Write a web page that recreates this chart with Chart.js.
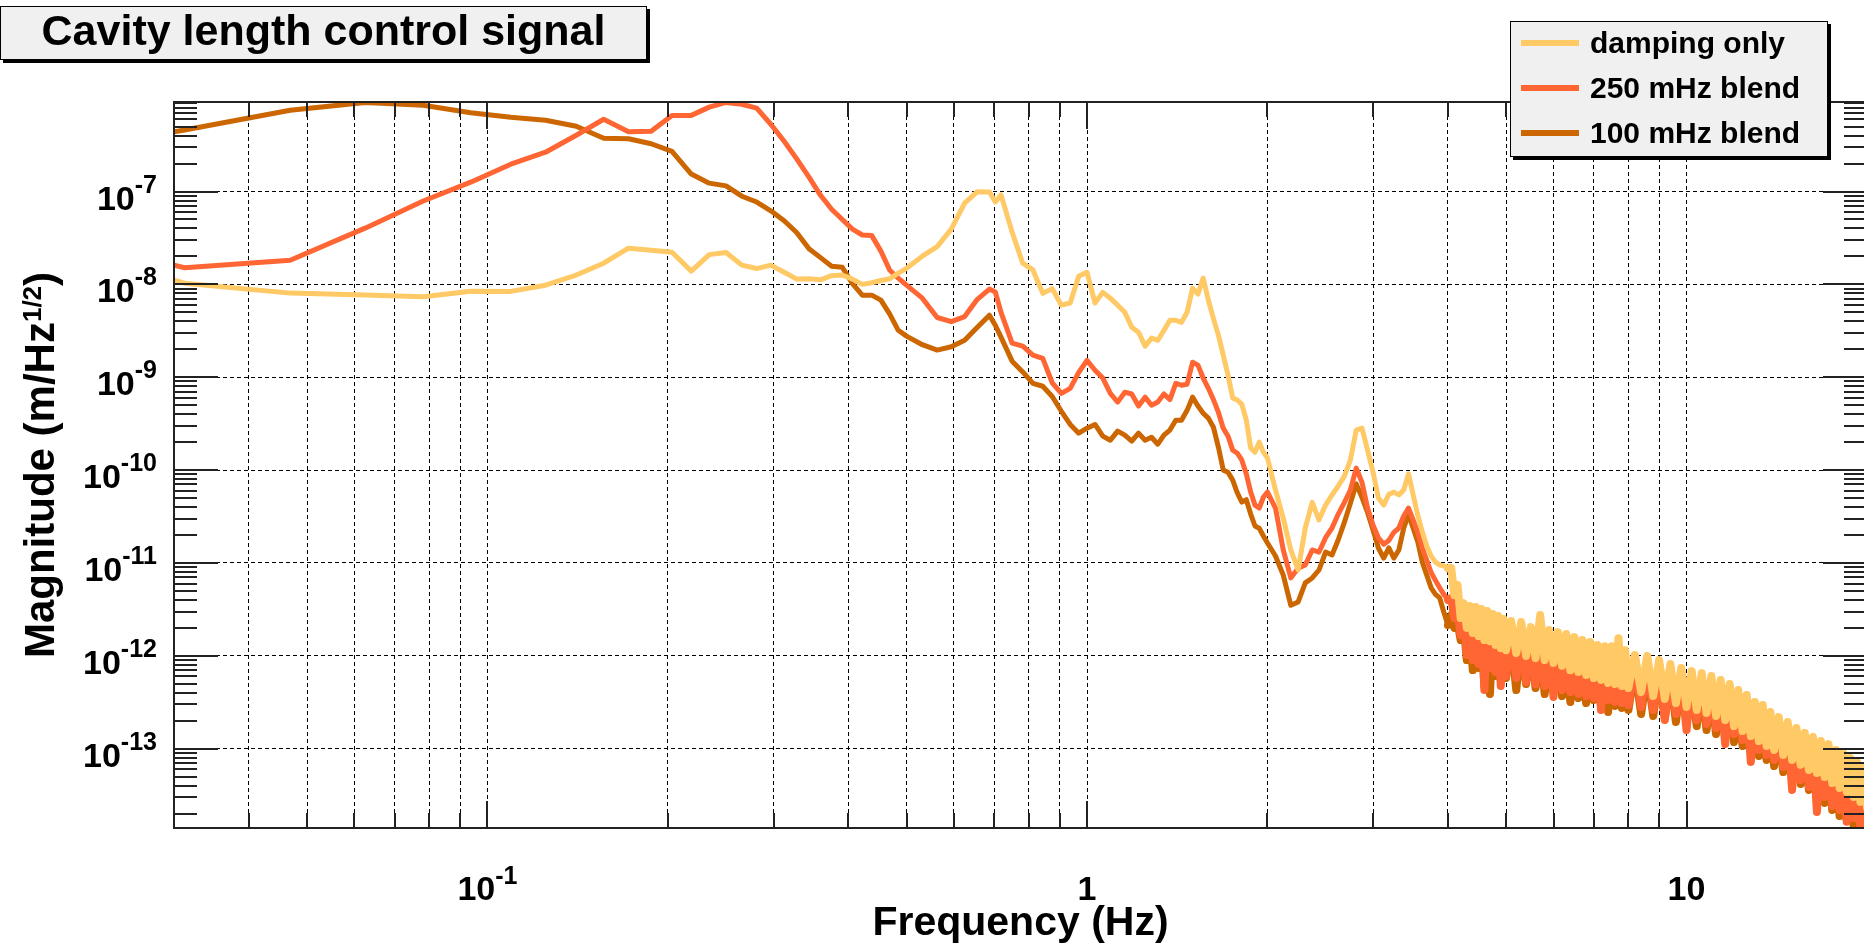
<!DOCTYPE html>
<html>
<head>
<meta charset="utf-8">
<title>Cavity length control signal</title>
<script src="https://cdn.jsdelivr.net/npm/chart.js@4.4.1/dist/chart.umd.min.js"></script>
<style>
  html, body { margin: 0; padding: 0; background: #fff; overflow: hidden; }
  body { width: 1864px; height: 943px; position: relative; font-family: "Liberation Sans", Arial, sans-serif; }
  #wrap { position: absolute; left: 0; top: 0; width: 1868px; height: 943px; }
  #title {
    position: absolute; left: 0; top: 6px; width: 645px; height: 52px;
    background: #f0f0f0; border: 1px solid #000; box-shadow: 3px 3px 0 #000;
    font-weight: bold; font-size: 43px; line-height: 46px; text-align: center; white-space: nowrap;
  }
  #legend {
    position: absolute; left: 1510px; top: 21px; width: 316px; height: 134px;
    background: #f0f0f0; border: 1px solid #000; box-shadow: 3px 3px 0 #000;
  }
  .swatch { position: absolute; left: 10px; width: 58px; height: 6px; }
  .label { position: absolute; left: 79px; font-weight: bold; font-size: 30px; line-height: 30px; white-space: nowrap; }
</style>
</head>
<body>
<div id="wrap"><canvas id="chart" width="1868" height="943"></canvas></div>
<div id="title">Cavity length control signal</div>
<div id="legend"></div>
<script>
// frequency bins (Hz), shared by all three spectra
const freqHz = [
  0.03, 0.03125, 0.046875, 0.0625, 0.078125, 0.09375, 0.109375, 0.125, 0.140625, 0.15625,
  0.171875, 0.1875, 0.203125, 0.21875, 0.234375, 0.25, 0.265625, 0.28125, 0.296875, 0.3125,
  0.328125, 0.34375, 0.359375, 0.375, 0.390625, 0.40625, 0.421875, 0.4375, 0.453125, 0.46875,
  0.484375, 0.5,
  0.53125, 0.5625, 0.59375, 0.625, 0.65625, 0.6875, 0.703125, 0.71875, 0.75, 0.78125,
  0.8125, 0.84375, 0.875, 0.90625, 0.9375, 0.96875, 1.0,
  1.03125, 1.0625, 1.09375, 1.125, 1.15625, 1.1875, 1.21875, 1.25, 1.28125, 1.3125,
  1.34375, 1.375, 1.40625, 1.4375, 1.46875, 1.5, 1.53125, 1.5625, 1.59375, 1.625,
  1.65625, 1.6875, 1.71875, 1.75, 1.78125, 1.8125, 1.84375, 1.875, 1.90625, 1.9375,
  1.96875, 2.0,
  2.0625, 2.125, 2.1875, 2.25, 2.3125, 2.375, 2.4375, 2.5, 2.5625, 2.625,
  2.6875, 2.75, 2.8125, 2.875, 2.9375, 3.0, 3.0625, 3.125, 3.1875, 3.25,
  3.3125, 3.375, 3.4375, 3.5, 3.5625, 3.625, 3.6875, 3.75, 3.8125, 3.875,
  3.9375, 4.0,
  4.05, 4.1, 4.15, 4.2, 4.25, 4.3, 4.35, 4.4, 4.45, 4.5, 4.55, 4.6, 4.65, 4.7, 4.75, 4.8, 4.85, 4.9, 4.95, 5.0,
  5.1, 5.2, 5.3, 5.4, 5.5, 5.6, 5.7, 5.8, 5.9, 6.0, 6.1, 6.2, 6.3, 6.4, 6.5,
  6.6, 6.7, 6.8, 6.9, 7.0, 7.1, 7.2, 7.3, 7.4, 7.5, 7.6, 7.7, 7.8, 7.9, 8.0,
  8.2, 8.4, 8.6, 8.8, 9.0, 9.2, 9.4, 9.6, 9.8, 10.0, 10.2, 10.4, 10.6, 10.8, 11.0,
  11.2, 11.4, 11.6, 11.8, 12.0, 12.2, 12.4, 12.6, 12.8, 13.0, 13.2, 13.4, 13.6, 13.8, 14.0,
  14.25, 14.5, 14.75, 15.0, 15.25, 15.5, 15.75, 16.0, 16.25, 16.5, 16.75, 17.0,
  17.25, 17.5, 17.75, 18.0, 18.25, 18.5, 18.75, 19.0, 19.25, 19.5, 19.75, 20.0
];

// magnitude, m/Hz^1/2
const dampingOnly = [
  1.11e-8, 1.03e-8, 8.05e-9, 7.7e-9, 7.35e-9, 8.45e-9, 8.4e-9, 9.8e-9, 1.26e-8, 1.69e-8,
  2.45e-8, 2.33e-8, 2.22e-8, 1.39e-8, 2.09e-8, 2.2e-8, 1.61e-8, 1.48e-8, 1.61e-8, 1.35e-8,
  1.14e-8, 1.15e-8, 1.12e-8, 1.24e-8, 1.26e-8, 1.14e-8, 1.0e-8, 1.04e-8, 1.1e-8, 1.15e-8,
  1.32e-8, 1.49e-8,
  2.01e-8, 2.55e-8, 3.93e-8, 7.5e-8, 9.95e-8, 9.9e-8, 7.7e-8, 9.2e-8, 3.65e-8, 1.69e-8,
  1.43e-8, 8.0e-9, 9.0e-9, 5.97e-9, 6.3e-9, 1.22e-8, 1.35e-8,
  6.3e-9, 8.2e-9, 7.1e-9, 5.97e-9, 5.0e-9, 3.46e-9, 3.05e-9, 2.16e-9, 2.64e-9, 2.5e-9,
  3.2e-9, 4.1e-9, 4.1e-9, 3.9e-9, 5.0e-9, 9.1e-9, 7.85e-9, 1.17e-8, 6.75e-9, 4.3e-9,
  2.84e-9, 1.73e-9, 1.05e-9, 5.96e-10, 5.7e-10, 5.1e-10, 3.46e-10, 1.73e-10, 1.56e-10, 2.0e-10,
  1.56e-10, 1.35e-10,
  6.1e-11, 3.04e-11, 1.38e-11, 8.4e-12, 2.38e-11, 4.5e-11, 2.9e-11, 4.2e-11, 5.4e-11, 6.75e-11,
  8.6e-11, 1.28e-10, 2.7e-10, 2.83e-10, 1.64e-10, 9.5e-11, 5.0e-11, 4.2e-11, 5.5e-11, 5.8e-11,
  5.4e-11, 6.1e-11, 9.1e-11, 5.4e-11, 3.27e-11, 2.15e-11, 1.52e-11, 1.19e-11, 1.02e-11, 9.5e-12,
  9.3e-12, 8.8e-12,
  8.85e-12, 4.5e-12, 5.8e-12, 2.55e-12, 3.7e-12, 2.0e-12, 3.44e-12, 1.76e-12, 3.35e-12, 1.63e-12,
  3.19e-12, 1.48e-12, 3.04e-12, 1.44e-12, 2.82e-12, 1.31e-12, 2.68e-12, 1.21e-12, 2.49e-12, 1.15e-12,
  2.37e-12, 1.07e-12, 2.31e-12, 9.95e-13, 2.04e-12, 9.45e-13, 2.75e-12, 9.0e-13, 1.9e-12, 8.4e-13,
  1.8e-12, 7.8e-13, 1.72e-12, 7.0e-13, 1.59e-12, 6.7e-13, 1.48e-12, 6.2e-13, 1.41e-12, 5.77e-13,
  1.31e-12, 5.5e-13, 1.27e-12, 5.1e-13, 1.27e-12, 4.97e-13, 1.55e-12, 4.73e-13, 1.15e-12, 4.5e-13,
  1.02e-12, 4.07e-13, 9.95e-13, 3.69e-13, 9.0e-13, 3.43e-13, 8.17e-13, 3.1e-13, 7.4e-13, 2.81e-13,
  6.85e-13, 2.61e-13, 6.5e-13, 2.42e-13, 6.06e-13, 2.25e-13, 5.5e-13, 2.04e-13, 4.97e-13, 1.75e-13,
  4.28e-13, 1.55e-13, 3.78e-13, 1.37e-13, 3.18e-13, 1.21e-13, 2.95e-13, 1.07e-13, 2.48e-13, 9.7e-14,
  2.19e-13, 8.56e-14, 1.94e-13, 7.57e-14, 1.67e-13, 6.7e-14, 1.48e-13, 5.9e-14, 1.34e-13, 5.47e-14,
  1.21e-13, 4.96e-14, 1.12e-13, 4.27e-14, 9.7e-14, 3.78e-14, 8.98e-14, 3.42e-14, 7.94e-14, 3.02e-14,
  7.2e-14, 2.67e-14, 6.35e-14, 2.3e-14
];

const blend250mHz = [
  1.61e-8, 1.51e-8, 1.82e-8, 4.03e-8, 7.9e-8, 1.26e-7, 1.97e-7, 2.65e-7, 4.04e-7, 6.0e-7,
  4.4e-7, 4.45e-7, 6.6e-7, 6.6e-7, 8.1e-7, 9.1e-7, 8.7e-7, 7.9e-7, 5.3e-7, 3.47e-7,
  2.23e-7, 1.43e-7, 9.1e-8, 6.45e-8, 5.0e-8, 3.93e-8, 3.4e-8, 3.35e-8, 2.28e-8, 1.42e-8,
  1.17e-8, 9.8e-9,
  7.1e-9, 4.4e-9, 3.97e-9, 4.5e-9, 6.9e-9, 8.9e-9, 8.3e-9, 5.0e-9, 2.33e-9, 2.16e-9,
  1.73e-9, 1.6e-9, 8.7e-10, 6.7e-10, 7.6e-10, 1.13e-9, 1.52e-9,
  1.19e-9, 9.8e-10, 6.7e-10, 5.4e-10, 6.9e-10, 6.6e-10, 4.9e-10, 6.1e-10, 5.0e-10, 5.4e-10,
  6.6e-10, 5.75e-10, 8.6e-10, 8.2e-10, 8.4e-10, 1.45e-9, 1.35e-9, 9.8e-10, 7.6e-10, 5.75e-10,
  4.2e-10, 2.83e-10, 2.32e-10, 1.64e-10, 1.52e-10, 1.28e-10, 9.1e-11, 5.8e-11, 4.2e-11, 3.9e-11,
  5.1e-11, 5.8e-11,
  3.9e-11, 1.38e-11, 6.9e-12, 8.8e-12, 9.5e-12, 1.38e-11, 1.31e-11, 1.87e-11, 2.38e-11, 3.36e-11,
  4.5e-11, 6.1e-11, 1.05e-10, 7.4e-11, 3.9e-11, 2.55e-11, 1.87e-11, 1.59e-11, 1.75e-11, 2.14e-11,
  2.38e-11, 3.2e-11, 3.9e-11, 2.9e-11, 2.14e-11, 1.45e-11, 1.07e-11, 7.9e-12, 6.5e-12, 5.4e-12,
  4.6e-12, 4.0e-12,
  4.19e-12, 2.55e-12, 2.96e-12, 1.67e-12, 2.55e-12, 1.02e-12, 2.43e-12, 9.0e-13, 2.31e-12, 8.17e-13,
  2.2e-12, 4.28e-13, 2.09e-12, 7.4e-13, 1.99e-12, 6.7e-13, 1.9e-12, 4.73e-13, 1.8e-12, 6.06e-13,
  1.72e-12, 5.77e-13, 1.63e-12, 5.22e-13, 1.55e-12, 4.97e-13, 1.48e-12, 4.73e-13, 1.41e-12, 3.6e-13,
  1.34e-12, 4.28e-13, 1.27e-12, 4.07e-13, 1.21e-12, 3.88e-13, 1.15e-12, 3.69e-13, 1.1e-12, 3.51e-13,
  1.05e-12, 2.61e-13, 1.02e-12, 3.34e-13, 9.7e-13, 3.18e-13, 9.2e-13, 3.1e-13, 8.8e-13, 2.95e-13,
  8.17e-13, 2.81e-13, 7.57e-13, 2.61e-13, 7.02e-13, 2.04e-13, 6.52e-13, 2.36e-13, 6.06e-13, 1.59e-13,
  5.5e-13, 2.04e-13, 5.1e-13, 1.84e-13, 4.73e-13, 1.67e-13, 4.28e-13, 1.12e-13, 3.88e-13, 1.44e-13,
  3.43e-13, 1.24e-13, 3.03e-13, 7.2e-14, 2.61e-13, 9.7e-14, 2.36e-13, 8.56e-14, 2.04e-13, 7.57e-14,
  1.8e-13, 6.35e-14, 1.59e-13, 3.6e-14, 1.34e-13, 4.6e-14, 1.18e-13, 3.87e-14, 1.07e-13, 2.08e-14,
  9.7e-14, 3.02e-14, 8.77e-14, 2.42e-14, 7.75e-14, 2.19e-14, 7.02e-14, 1.63e-14, 6.2e-14, 1.79e-14,
  5.61e-14, 1.4e-14, 4.96e-14, 1.27e-14
];

const blend100mHz = [
  4.4e-7, 4.6e-7, 7.5e-7, 9.1e-7, 8.5e-7, 7.05e-7, 6.3e-7, 5.85e-7, 5.05e-7, 3.75e-7,
  3.7e-7, 3.27e-7, 2.7e-7, 1.54e-7, 1.23e-7, 1.15e-7, 8.9e-8, 7.7e-8, 6.2e-8, 4.84e-8,
  3.6e-8, 2.42e-8, 1.94e-8, 1.57e-8, 1.53e-8, 1.02e-8, 7.65e-9, 7.65e-9, 6.76e-9, 4.78e-9,
  3.2e-9, 2.77e-9,
  2.24e-9, 1.96e-9, 2.13e-9, 2.5e-9, 3.46e-9, 4.66e-9, 3.63e-9, 2.7e-9, 1.49e-9, 1.14e-9,
  8.6e-10, 8.0e-10, 6.2e-10, 4.3e-10, 3.1e-10, 2.5e-10, 2.83e-10,
  3.1e-10, 2.32e-10, 2.1e-10, 2.63e-10, 2.38e-10, 2.05e-10, 2.5e-10, 2.1e-10, 2.26e-10, 1.9e-10,
  2.38e-10, 2.7e-10, 3.45e-10, 3.45e-10, 4.4e-10, 6.1e-10, 4.9e-10, 4.1e-10, 3.63e-10, 2.9e-10,
  1.77e-10, 1.0e-10, 9.5e-11, 7.8e-11, 5.67e-11, 4.53e-11, 4.8e-11, 3.36e-11, 2.5e-11, 2.37e-11,
  1.95e-11, 1.64e-11,
  1.19e-11, 7.4e-12, 3.5e-12, 3.8e-12, 6.1e-12, 6.9e-12, 8.4e-12, 1.31e-11, 1.22e-11, 1.78e-11,
  2.75e-11, 4.4e-11, 7.1e-11, 5.1e-11, 3.5e-11, 2.27e-11, 1.45e-11, 1.13e-11, 1.45e-11, 1.13e-11,
  1.38e-11, 2.37e-11, 3.36e-11, 2.37e-11, 1.68e-11, 1.02e-11, 7.4e-12, 5.4e-12, 4.6e-12, 4.2e-12,
  2.95e-12, 2.14e-12,
  2.75e-12, 2.0e-12, 2.31e-12, 1.48e-12, 2.09e-12, 9.0e-13, 1.99e-12, 7.02e-13, 1.99e-12, 7.4e-13,
  1.9e-12, 4.73e-13, 1.8e-12, 3.88e-13, 1.72e-12, 6.06e-13, 1.63e-12, 5.5e-13, 1.55e-12, 5.77e-13,
  1.48e-12, 4.28e-13, 1.41e-12, 4.97e-13, 1.34e-12, 4.5e-13, 1.27e-12, 3.88e-13, 1.21e-12, 4.07e-13,
  1.15e-12, 3.69e-13, 1.1e-12, 3.18e-13, 1.05e-12, 3.51e-13, 9.95e-13, 3.1e-13, 9.45e-13, 3.34e-13,
  9.0e-13, 2.88e-13, 9.0e-13, 2.48e-13, 8.6e-13, 2.88e-13, 8.17e-13, 2.74e-13, 7.8e-13, 2.61e-13,
  7.4e-13, 2.36e-13, 6.85e-13, 2.25e-13, 6.3e-13, 2.14e-13, 5.9e-13, 1.94e-13, 5.5e-13, 1.84e-13,
  4.97e-13, 1.75e-13, 4.6e-13, 1.59e-13, 4.28e-13, 1.44e-13, 3.88e-13, 1.3e-13, 3.51e-13, 1.18e-13,
  3.1e-13, 1.07e-13, 2.74e-13, 9.2e-14, 2.42e-13, 8.35e-14, 2.14e-13, 7.57e-14, 1.89e-13, 6.5e-14,
  1.67e-13, 5.61e-14, 1.44e-13, 4.84e-14, 1.24e-13, 4.17e-14, 1.1e-13, 3.6e-14, 9.9e-14, 2.8e-14,
  8.98e-14, 2.6e-14, 8.15e-14, 2.19e-14, 7.2e-14, 1.89e-14, 6.5e-14, 1.71e-14, 5.75e-14, 1.47e-14,
  5.2e-14, 1.33e-14, 4.6e-14, 1.21e-14
];

const seriesNames = ['damping only', '250 mHz blend', '100 mHz blend'];
const seriesColors = ['#ffc966', '#ff6633', '#cc6600'];

// axis ticks and labels
const xLabelValues = [0.1, 1, 10];
const xLabelBase = ['10', '1', '10'];
const xLabelExp = ['-1', '', ''];
const xMinorValues = [0.04, 0.05, 0.06, 0.07, 0.08, 0.09, 0.2, 0.3, 0.4, 0.5, 0.6, 0.7, 0.8, 0.9,
  2, 3, 4, 5, 6, 7, 8, 9];
const yLabelValues = [1e-7, 1e-8, 1e-9, 1e-10, 1e-11, 1e-12, 1e-13];
const yLabelExp = ['-7', '-8', '-9', '-10', '-11', '-12', '-13'];

const yMinorValues = [];
for (let e = -14; e <= -7; e++) {
  for (let m = 2; m <= 9; m++) {
    const v = m * Math.pow(10, e);
    if (v > 1.4e-14 && v < 9.2e-7) yMinorValues.push(v);
  }
}

const FONT = '"Liberation Sans", Arial, sans-serif';
const NOISE_FROM = 4.0;   // above this the spectra are a dense noisy band

const points = vals => freqHz.map((f, i) => ({ x: f, y: vals[i] }));

// ROOT-style frame: inward ticks on four sides, labels with exponents, axis titles
const rootAxes = {
  id: 'rootAxes',
  afterDatasetsDraw(chart) {
    const { ctx, chartArea: a } = chart;
    const xs = chart.scales.x, ys = chart.scales.y;
    ctx.save();
    ctx.strokeStyle = '#222';
    ctx.lineWidth = 2;
    ctx.beginPath();
    const tickX = (v, len) => {
      const px = Math.round(xs.getPixelForValue(v));
      ctx.moveTo(px, a.bottom); ctx.lineTo(px, a.bottom - len);
      ctx.moveTo(px, a.top); ctx.lineTo(px, a.top + len);
    };
    const tickY = (v, len) => {
      const py = Math.round(ys.getPixelForValue(v));
      ctx.moveTo(a.left, py); ctx.lineTo(a.left + len, py);
      ctx.moveTo(a.right, py); ctx.lineTo(a.right - len, py);
    };
    xMinorValues.forEach(v => tickX(v, 15));
    xLabelValues.forEach(v => tickX(v, 27));
    yMinorValues.forEach(v => tickY(v, 23));
    yLabelValues.forEach(v => tickY(v, 44));
    ctx.stroke();
    ctx.strokeRect(a.left, a.top, a.right - a.left, a.bottom - a.top);

    ctx.fillStyle = '#000';
    ctx.textBaseline = 'alphabetic';
    ctx.textAlign = 'left';
    const baseFont = 'bold 34px ' + FONT;
    const supFont = 'bold 25px ' + FONT;

    yLabelValues.forEach((v, i) => {
      const py = ys.getPixelForValue(v);
      ctx.font = supFont;
      const ws = ctx.measureText(yLabelExp[i]).width;
      ctx.font = baseFont;
      const wb = ctx.measureText('10').width;
      const right = a.left - 17;
      ctx.fillText('10', right - ws - wb, py + 18);
      ctx.font = supFont;
      ctx.fillText(yLabelExp[i], right - ws, py + 1);
    });

    xLabelValues.forEach((v, i) => {
      const px = xs.getPixelForValue(v);
      ctx.font = supFont;
      const ws = xLabelExp[i] ? ctx.measureText(xLabelExp[i]).width : 0;
      ctx.font = baseFont;
      const wb = ctx.measureText(xLabelBase[i]).width;
      const left = px - (wb + ws) / 2;
      ctx.fillText(xLabelBase[i], left, a.bottom + 72);
      if (ws) {
        ctx.font = supFont;
        ctx.fillText(xLabelExp[i], left + wb, a.bottom + 56);
      }
    });

    // x title
    ctx.font = 'bold 41px ' + FONT;
    ctx.textAlign = 'center';
    ctx.fillText('Frequency (Hz)', (a.left + a.right) / 2, 935);

    // y title, rotated, with superscript
    ctx.save();
    ctx.translate(54, (a.top + a.bottom) / 2);
    ctx.rotate(-Math.PI / 2);
    ctx.textAlign = 'left';
    const t1 = 'Magnitude (m/Hz', t2 = '1/2', t3 = ')';
    ctx.font = 'bold 42px ' + FONT;
    const w1 = ctx.measureText(t1).width, w3 = ctx.measureText(t3).width;
    ctx.font = 'bold 26px ' + FONT;
    const w2 = ctx.measureText(t2).width;
    let sx = -(w1 + w2 + w3) / 2;
    ctx.font = 'bold 42px ' + FONT;
    ctx.fillText(t1, sx, 0);
    sx += w1;
    ctx.font = 'bold 26px ' + FONT;
    ctx.fillText(t2, sx, -13);
    sx += w2;
    ctx.font = 'bold 42px ' + FONT;
    ctx.fillText(t3, sx, 0);
    ctx.restore();

    ctx.restore();
  }
};

const seriesData = [dampingOnly, blend250mHz, blend100mHz];

new Chart(document.getElementById('chart'), {
  type: 'line',
  data: {
    datasets: seriesData.map((vals, i) => ({
      label: seriesNames[i],
      data: points(vals),
      borderColor: seriesColors[i],
      backgroundColor: seriesColors[i],
      borderWidth: 5,
      pointRadius: 0,
      tension: 0,
      borderJoinStyle: 'round',
      borderCapStyle: 'round',
      clip: 0,
      // the dense noisy part is drawn heavier so it reads as a band
      segment: { borderWidth: c => (freqHz[c.p0DataIndex] >= NOISE_FROM ? 8 : undefined) }
    }))
  },
  options: {
    responsive: false,
    animation: false,
    devicePixelRatio: 1,
    parsing: false,
    layout: { padding: { top: 102, right: 1, left: 0, bottom: 0 } },
    plugins: { legend: { display: false }, tooltip: { enabled: false } },
    scales: {
      x: {
        type: 'logarithmic',
        min: 0.03,
        max: 20,
        afterBuildTicks: s => { s.ticks = xMinorValues.concat(xLabelValues).map(v => ({ value: v })); },
        afterFit: s => { s.height = 115; },
        ticks: { display: false },
        grid: { color: '#000', lineWidth: 1, drawTicks: false },
        border: { display: false, dash: [4, 3] }
      },
      y: {
        type: 'logarithmic',
        min: 1.4e-14,
        max: 9.2e-7,
        afterBuildTicks: s => { s.ticks = yLabelValues.map(v => ({ value: v })); },
        afterFit: s => { s.width = 174; },
        ticks: { display: false },
        grid: { color: '#000', lineWidth: 1, drawTicks: false },
        border: { display: false, dash: [4, 3] }
      }
    }
  },
  plugins: [rootAxes]
});

// legend box
const legend = document.getElementById('legend');
const rowCenters = [21, 66, 111];
seriesNames.forEach((name, i) => {
  const sw = document.createElement('div');
  sw.className = 'swatch';
  sw.style.top = (rowCenters[i] - 3) + 'px';
  sw.style.background = seriesColors[i];
  legend.appendChild(sw);
  const lb = document.createElement('div');
  lb.className = 'label';
  lb.style.top = (rowCenters[i] - 15.5) + 'px';
  lb.textContent = name;
  legend.appendChild(lb);
});
</script>
</body>
</html>
